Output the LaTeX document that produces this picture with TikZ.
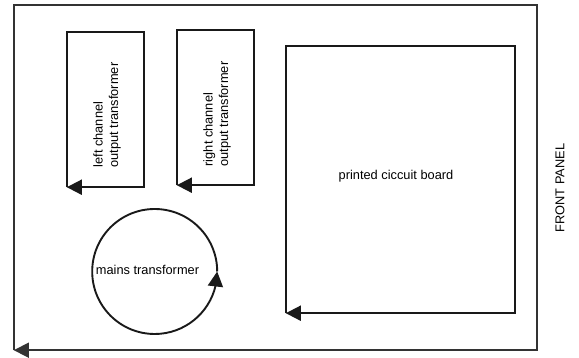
\documentclass[tikz,border=0pt]{standalone}
\usepackage{fontspec}
\setmainfont{Liberation Sans}
\usetikzlibrary{arrows.meta,bending}
\begin{document}
\begin{tikzpicture}[x=1pt,y=-1pt,
  lbl/.style={font=\fontsize{12.8}{15.5}\selectfont,text=black,inner sep=0pt},
  frame/.style={draw=none,inner sep=0pt},
  edge/.style={line width=1.9pt,draw=black!90,-{Triangle[length=15pt,width=15pt]}},
  outer/.style={line width=1.6pt,draw=black!80,-{Triangle[length=15pt,width=15pt]}}]
\useasboundingbox (0,0) rectangle (579,358);
% outer frame
\node[frame,minimum width=523pt,minimum height=345pt] (case) at (275.5,177.5) {};
\draw[outer] (case.south west) |- (case.north east) |- (case.south west);
% left channel output transformer
\node[frame,minimum width=77pt,minimum height=155pt] (lbox) at (105.5,109.5) {};
\draw[edge] (lbox.south west) |- (lbox.north east) |- (lbox.south west);
\node[lbl,rotate=90,align=left] (ltxt) at (107,115) {left channel\\output transformer};
% right channel output transformer
\node[frame,minimum width=77pt,minimum height=155pt] (rbox) at (215.5,107.5) {};
\draw[edge] (rbox.south west) |- (rbox.north east) |- (rbox.south west);
\node[lbl,rotate=90,align=left] (rtxt) at (217,114) {right channel\\output transformer};
% printed circuit board
\node[frame,minimum width=229pt,minimum height=267pt] (pcb) at (400.5,179.5) {};
\draw[edge] (pcb.south west) |- (pcb.north east) |- (pcb.south west);
\node[lbl] (pcbtxt) at (396,176) {printed ciccuit board};
% mains transformer
\node[frame,circle,minimum size=125pt] (mains) at (154.5,271.5) {};
\draw[edge] (mains.east) arc[start angle=0,end angle=360,radius=62.5pt];
\node[lbl] (mtxt) at (147.5,270) {mains transformer};
% front panel label
\node[lbl,rotate=90] (fp) at (560,188) {FRONT PANEL};
\end{tikzpicture}
\end{document}
